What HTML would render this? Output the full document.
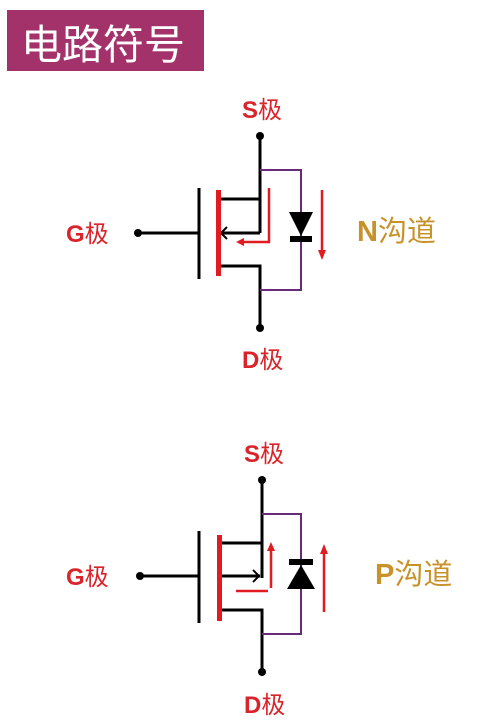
<!DOCTYPE html>
<html><head><meta charset="utf-8"><style>
html,body{margin:0;padding:0;background:#fff;width:488px;height:720px;overflow:hidden}
svg{display:block}
.lbl{font-family:"Liberation Sans","Noto Sans CJK SC",sans-serif;font-weight:bold;font-size:24px;fill:#d8242a}
.lbl tspan{font-weight:normal}
.ch{font-family:"Liberation Sans","Noto Sans CJK SC",sans-serif;font-weight:bold;font-size:29px;fill:#c8922a}
.ch tspan{font-weight:normal}
</style></head><body>
<svg width="488" height="720" viewBox="0 0 488 720" xmlns="http://www.w3.org/2000/svg">
<rect x="7" y="10" width="197" height="61" fill="#a3326a"/>
<text x="21" y="59" font-family="'Noto Sans CJK SC',sans-serif" font-size="41" fill="#fff">电路符号</text>

<!-- N channel -->
<text class="lbl" x="242" y="118">S<tspan>极</tspan></text>
<text class="lbl" x="242" y="368">D<tspan>极</tspan></text>
<text class="lbl" x="66" y="242">G<tspan>极</tspan></text>
<text class="ch" x="357" y="241">N<tspan>沟道</tspan></text>
<g stroke="#000" stroke-width="3" fill="none">
<line x1="138" y1="233" x2="199" y2="233"/>
<line x1="199" y1="188" x2="199" y2="279"/>
<polyline points="221,199 260,199 260,136"/>
<line x1="222" y1="233" x2="260" y2="233"/>
<line x1="260" y1="199" x2="260" y2="233"/>
<polyline points="221,266 260,266 260,328"/>
<polyline points="227,227 221,233 227,239" stroke-width="2"/>
</g>
<circle cx="138" cy="233" r="4"/><circle cx="260" cy="136" r="4"/><circle cx="260" cy="328" r="4"/>
<rect x="216" y="190" width="5" height="86" fill="#e01b22"/>
<polyline points="260,170 301,170 301,290 260,290" stroke="#6a2a7a" stroke-width="2" fill="none"/>
<polygon points="289,212 313,212 301,236" fill="#000"/>
<rect x="290" y="236" width="22" height="6" fill="#000"/>
<polyline points="269,188 269,242 242,242" stroke="#e01b22" stroke-width="2.5" fill="none"/>
<polygon points="236,242 244,238 244,246" fill="#e01b22"/>
<line x1="322" y1="190" x2="322" y2="252" stroke="#e01b22" stroke-width="2.5"/>
<polygon points="322,260 318,250 326,250" fill="#e01b22"/>

<!-- P channel -->
<text class="lbl" x="244" y="462">S<tspan>极</tspan></text>
<text class="lbl" x="244" y="713">D<tspan>极</tspan></text>
<text class="lbl" x="66" y="585">G<tspan>极</tspan></text>
<text class="ch" x="375" y="584">P<tspan>沟道</tspan></text>
<g stroke="#000" stroke-width="3" fill="none">
<line x1="140" y1="576" x2="199" y2="576"/>
<line x1="199" y1="531" x2="199" y2="623"/>
<polyline points="222,543 262,543 262,480"/>
<line x1="222" y1="576" x2="260" y2="576"/>
<line x1="262" y1="543" x2="262" y2="578"/>
<polyline points="222,610 262,610 262,672"/>
<polyline points="253,570 259,576 253,582" stroke-width="2"/>
</g>
<circle cx="140" cy="576" r="4"/><circle cx="262" cy="480" r="4"/><circle cx="262" cy="672" r="4"/>
<rect x="217" y="535" width="5" height="86" fill="#e01b22"/>
<polyline points="262,514 301,514 301,634 262,634" stroke="#6a2a7a" stroke-width="2" fill="none"/>
<rect x="289" y="559" width="24" height="6" fill="#000"/>
<polygon points="287,589 315,589 301,565" fill="#000"/>
<line x1="271" y1="588" x2="271" y2="550" stroke="#e01b22" stroke-width="2.5"/>
<polygon points="271,542 267,551 275,551" fill="#e01b22"/>
<line x1="236" y1="591" x2="268" y2="591" stroke="#e01b22" stroke-width="2.5"/>
<line x1="324" y1="612" x2="324" y2="553" stroke="#e01b22" stroke-width="2.5"/>
<polygon points="324,544 320,554 328,554" fill="#e01b22"/>
</svg>
</body></html>
